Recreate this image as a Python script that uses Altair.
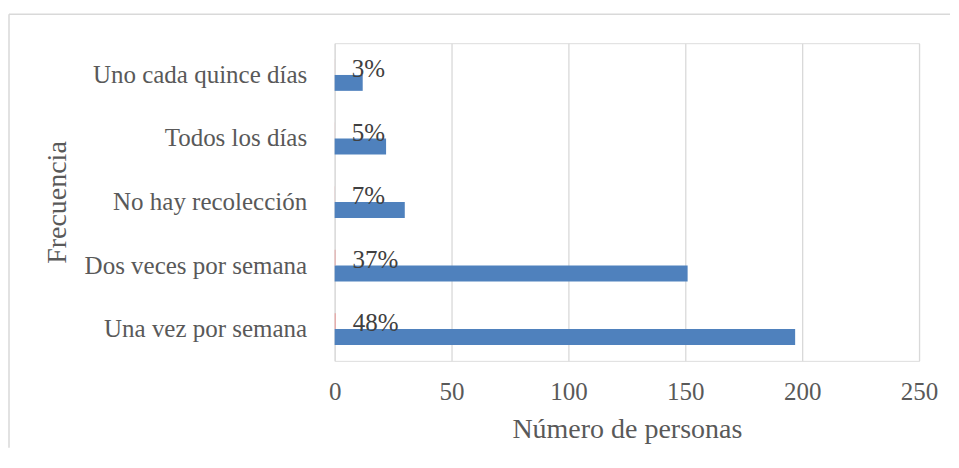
import altair as alt
import pandas as pd

categorias = ["Uno cada quince días", "Todos los días", "No hay recolección",
              "Dos veces por semana", "Una vez por semana"]
personas = [12, 22, 30, 151, 197]
porcentajes = [0.03, 0.05, 0.07, 0.37, 0.48]
etiquetas = ["3%", "5%", "7%", "37%", "48%"]
ticks_x = [0, 50, 100, 150, 200, 250]

series = ["a_porcentaje", "b_personas"]
colores = ["#E8A09E", "#4F81BD"]

rows = []
for c, n, p, e in zip(categorias, personas, porcentajes, etiquetas):
    rows.append({"Frecuencia": c, "serie": "b_personas", "valor": n, "etiqueta": ""})
    rows.append({"Frecuencia": c, "serie": "a_porcentaje", "valor": p, "etiqueta": e})
df = pd.DataFrame(rows)

FONT = "Liberation Serif"
W, H = 585, 318
GRID = "#d9d9d9"
TXT = "#595959"

y_enc = alt.Y(
    "Frecuencia:N",
    sort=categorias,
    scale=alt.Scale(paddingInner=0.5, paddingOuter=0.25),
    axis=alt.Axis(
        title="Frecuencia", labelFont=FONT, labelFontSize=25, labelColor=TXT,
        labelPadding=28, ticks=False, domain=False, grid=False, labelLimit=400,
        titleFont=FONT, titleFontSize=28, titleFontWeight="normal", titleColor=TXT,
        titlePadding=63,
    ),
)
x_enc = alt.X(
    "valor:Q",
    scale=alt.Scale(domain=[0, 250], nice=False),
    axis=alt.Axis(
        values=ticks_x, title="Número de personas", grid=True, gridColor=GRID,
        gridWidth=1.3, domain=False, ticks=False, labelFlush=False,
        labelFont=FONT, labelFontSize=25,
        labelColor=TXT, labelPadding=19, titleFont=FONT, titleFontSize=28,
        titleFontWeight="normal", titleColor=TXT, titlePadding=11,
    ),
)
yoff = alt.YOffset("serie:N", scale=alt.Scale(domain=series, paddingInner=0, paddingOuter=0))
color = alt.Color("serie:N", scale=alt.Scale(domain=series, range=colores), legend=None)

bars = alt.Chart(df).mark_bar().encode(x=x_enc, y=y_enc, yOffset=yoff, color=color)

text = (
    alt.Chart(df)
    .transform_filter("datum.serie == 'a_porcentaje'")
    .mark_text(align="left", baseline="middle", dx=17, dy=2, font=FONT,
               fontSize=25, color="#404040")
    .encode(x="valor:Q", y=alt.Y("Frecuencia:N", sort=categorias), yOffset=yoff,
            text="etiqueta:N")
)

frame_df = pd.DataFrame({"k": [0]})
top_line = alt.Chart(frame_df).mark_rule(color=GRID, strokeWidth=1.5).encode(
    x=alt.value(-326), x2=alt.value(W + 31), y=alt.value(-29)
)
left_line = alt.Chart(frame_df).mark_rule(color=GRID, strokeWidth=1.5).encode(
    x=alt.value(-326), y=alt.value(-29), y2=alt.value(H + 87)
)

chart = (
    alt.layer(top_line, left_line, bars, text)
    .properties(width=W, height=H, padding={"left": 0, "top": 5, "right": 0, "bottom": 0})
    .configure_view(strokeWidth=0, stroke="transparent")
    .configure(background="white")
)

chart.save("out.html", embed_options={"renderer": "svg", "actions": False})
